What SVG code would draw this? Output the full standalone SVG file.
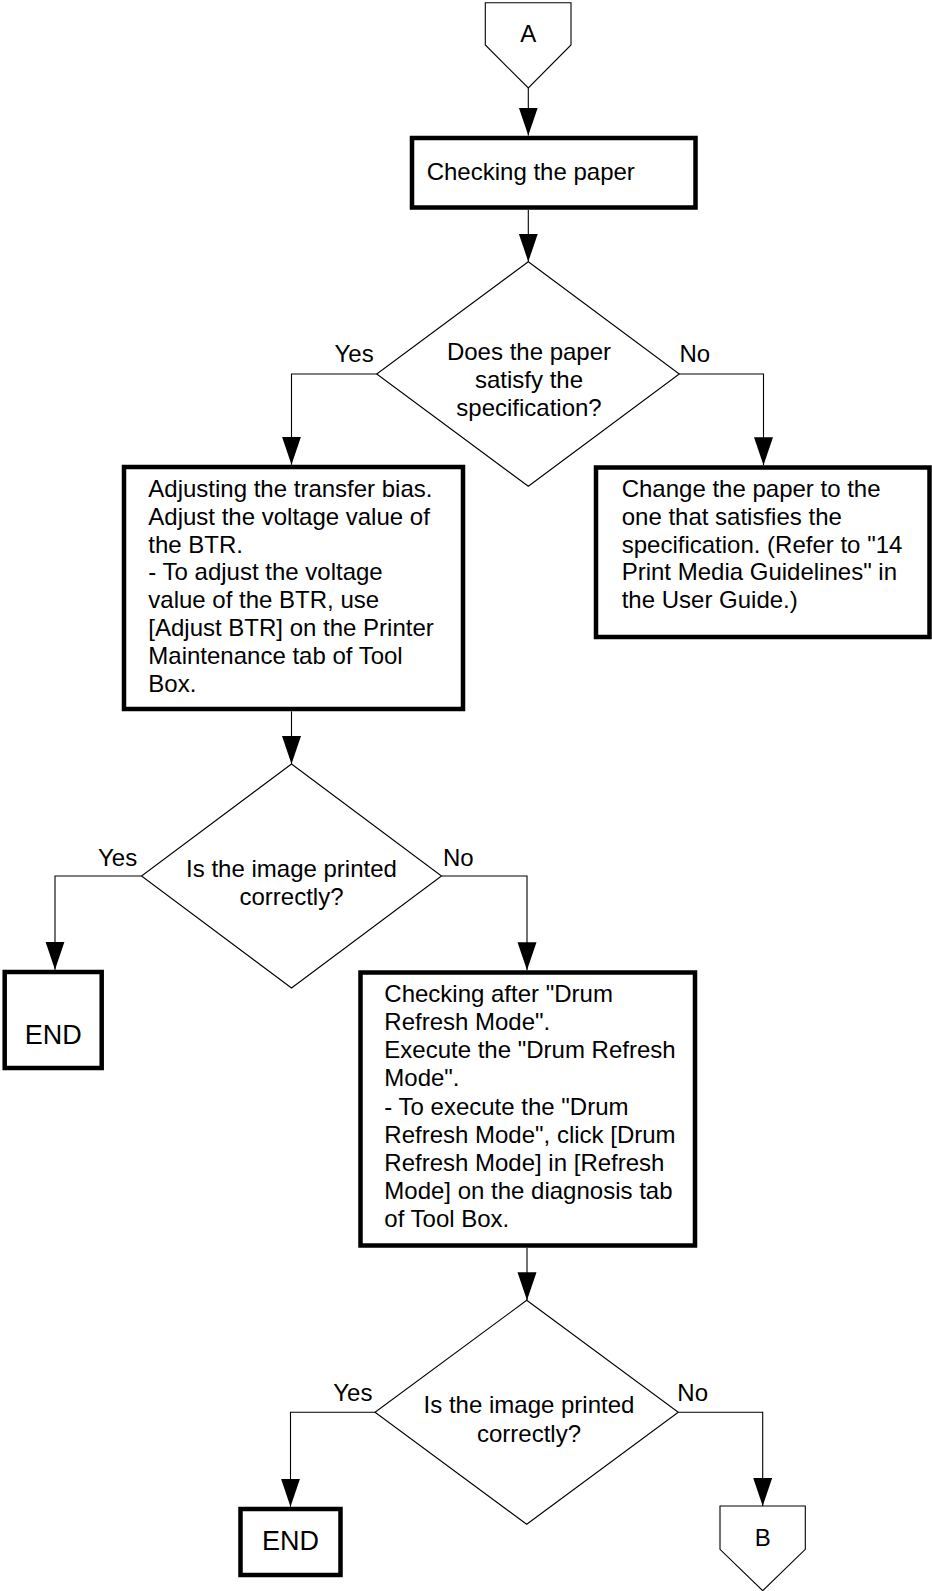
<svg xmlns="http://www.w3.org/2000/svg" width="932" height="1591" viewBox="0 0 932 1591">
  <style>
    .box { fill: #ffffff; stroke: #000000; stroke-width: 4.5; }
    .dec { fill: #ffffff; stroke: #000000; stroke-width: 1.1; }
    .off { fill: #ffffff; stroke: #000000; stroke-width: 1.1; }
    .wire { fill: none; stroke: #000000; stroke-width: 1.1; marker-end: url(#arrow); }
    text { font-family: "Liberation Sans", Arial, sans-serif; font-size: 24px; fill: #000000; }
    .c { text-anchor: middle; }
    .end { font-size: 27px; }
  </style>
  <defs>
    <marker id="arrow" markerUnits="userSpaceOnUse" markerWidth="28" markerHeight="20" refX="28" refY="9.5" orient="auto">
      <path d="M0,0 L28,9.5 L0,19 Z" fill="#000000"/>
    </marker>
  </defs>
  <rect width="932" height="1591" fill="#ffffff"/>

  <g id="connectors">
    <path class="wire" d="M528.3,88 V135.5"/>
    <path class="wire" d="M528.3,210 V261.7"/>
    <path class="wire" d="M376.7,374 H291.5 V464.7"/>
    <path class="wire" d="M679.3,374 H763.5 V465.2"/>
    <path class="wire" d="M291.5,711.3 V764"/>
    <path class="wire" d="M141.5,876 H55 V969.7"/>
    <path class="wire" d="M441.5,876 H527 V970.2"/>
    <path class="wire" d="M527,1247.8 V1300.3"/>
    <path class="wire" d="M375,1412.3 H290.5 V1506.7"/>
    <path class="wire" d="M678.3,1412.3 H762.7 V1506"/>
  </g>

  <g id="connector-a">
    <path class="off" d="M485.3,2.7 H571 V45 L528.3,88 L485.3,45 Z"/>
    <text class="c" x="528.3" y="42.3">A</text>
  </g>

  <g id="checking-paper">
    <rect class="box" x="412" y="138" width="283.5" height="69.5"/>
    <text x="426.7" y="180">Checking the paper</text>
  </g>

  <g id="paper-spec">
    <path class="dec" d="M528.3,261.7 L679.3,374 L528.3,486.3 L376.7,374 Z"/>
    <text class="c" x="529" y="360">Does the paper</text>
    <text class="c" x="529" y="388">satisfy the</text>
    <text class="c" x="529" y="415.7">specification?</text>
    <text x="334.5" y="362">Yes</text>
    <text x="679.5" y="362">No</text>
  </g>

  <g id="adjust-bias">
    <rect class="box" x="124" y="467" width="339" height="242"/>
    <text x="148.3" y="496.7">Adjusting the transfer bias.</text>
    <text x="148.3" y="524.6">Adjust the voltage value of</text>
    <text x="148.3" y="552.5">the BTR.</text>
    <text x="148.3" y="580.4">- To adjust the voltage</text>
    <text x="148.3" y="608.3">value of the BTR, use</text>
    <text x="148.3" y="636.2">[Adjust BTR] on the Printer</text>
    <text x="148.3" y="664.1">Maintenance tab of Tool</text>
    <text x="148.3" y="692">Box.</text>
  </g>

  <g id="change-paper">
    <rect class="box" x="596" y="467.5" width="333.5" height="169.5"/>
    <text x="621.7" y="496.7">Change the paper to the</text>
    <text x="621.7" y="524.6">one that satisfies the</text>
    <text x="621.7" y="552.5">specification. (Refer to "14</text>
    <text x="621.7" y="580.4">Print Media Guidelines" in</text>
    <text x="621.7" y="608.3">the User Guide.)</text>
  </g>

  <g id="image-check-1">
    <path class="dec" d="M291.5,764 L441.5,876 L291.5,988 L141.5,876 Z"/>
    <text class="c" x="291.5" y="877">Is the image printed</text>
    <text class="c" x="291.5" y="905">correctly?</text>
    <text x="98" y="866">Yes</text>
    <text x="443" y="866">No</text>
  </g>

  <g id="end-1">
    <rect class="box" x="4.7" y="972" width="97" height="96"/>
    <text class="c end" x="53.2" y="1044">END</text>
  </g>

  <g id="drum-refresh">
    <rect class="box" x="360.5" y="972.5" width="334.5" height="273"/>
    <text x="384.3" y="1001.7">Checking after "Drum</text>
    <text x="384.3" y="1029.9">Refresh Mode".</text>
    <text x="384.3" y="1058.1">Execute the "Drum Refresh</text>
    <text x="384.3" y="1086.3">Mode".</text>
    <text x="384.3" y="1114.5">- To execute the "Drum</text>
    <text x="384.3" y="1142.7">Refresh Mode", click [Drum</text>
    <text x="384.3" y="1170.9">Refresh Mode] in [Refresh</text>
    <text x="384.3" y="1199.1">Mode] on the diagnosis tab</text>
    <text x="384.3" y="1227.3">of Tool Box.</text>
  </g>

  <g id="image-check-2">
    <path class="dec" d="M526.7,1300.3 L678.3,1412.3 L526.7,1524.3 L375,1412.3 Z"/>
    <text class="c" x="529" y="1413">Is the image printed</text>
    <text class="c" x="529" y="1441.5">correctly?</text>
    <text x="333.3" y="1400.7">Yes</text>
    <text x="677.3" y="1400.7">No</text>
  </g>

  <g id="end-2">
    <rect class="box" x="240.5" y="1509" width="100" height="66"/>
    <text class="c end" x="290.5" y="1550">END</text>
  </g>

  <g id="connector-b">
    <path class="off" d="M720,1506 H805.3 V1549.3 L762.7,1590.7 L720,1549.3 Z"/>
    <text class="c" x="762.7" y="1546">B</text>
  </g>
</svg>
